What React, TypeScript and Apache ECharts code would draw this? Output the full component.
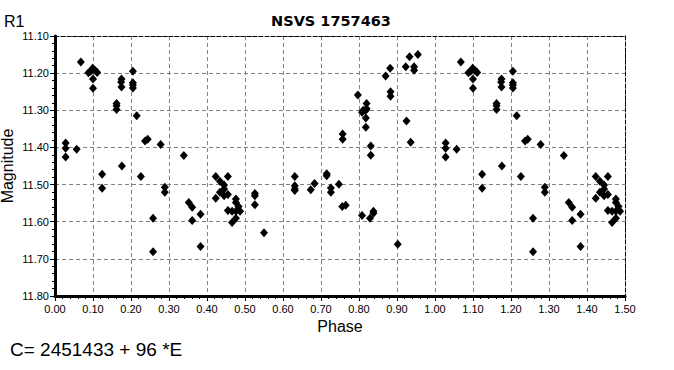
import React, { useEffect, useRef } from "react";
import * as echarts from "echarts";

const chartTitle = "NSVS 1757463";
const yUnit = "R1";
const xName = "Phase";
const yName = "Magnitude";
const epochText = "C= 2451433 + 96 *E";

// observed phase (0..1) and R1 magnitude
const phases = [
  0.028, 0.028, 0.028, 0.057, 0.068, 0.088, 0.094, 0.099, 0.105, 0.111,
  0.100, 0.100, 0.124, 0.124, 0.162, 0.162, 0.162, 0.175, 0.174, 0.175,
  0.176, 0.205, 0.205, 0.205, 0.205, 0.215, 0.237, 0.244, 0.226, 0.258,
  0.258, 0.278, 0.289, 0.289, 0.339, 0.352, 0.361, 0.361, 0.383, 0.383,
  0.423, 0.423, 0.434, 0.434, 0.445, 0.445, 0.445, 0.455, 0.455, 0.455,
  0.466, 0.466, 0.476, 0.476, 0.476, 0.476, 0.483, 0.487, 0.526, 0.526,
  0.526, 0.550, 0.631, 0.631, 0.631, 0.631, 0.673, 0.683, 0.715, 0.715,
  0.726, 0.726, 0.747, 0.756, 0.765, 0.757, 0.757, 0.797, 0.808, 0.811,
  0.818, 0.820, 0.820, 0.818, 0.818, 0.831, 0.831, 0.808, 0.829, 0.838,
  0.838, 0.870, 0.882, 0.883, 0.883, 0.902, 0.925, 0.936, 0.923, 0.933,
  0.945, 0.945, 0.955,
];
const mags = [
  11.388, 11.402, 11.426, 11.405, 11.170, 11.199, 11.195, 11.187, 11.192, 11.198,
  11.216, 11.241, 11.472, 11.510, 11.282, 11.288, 11.298, 11.216, 11.224, 11.237,
  11.450, 11.195, 11.226, 11.232, 11.240, 11.315, 11.383, 11.378, 11.478, 11.591,
  11.681, 11.392, 11.507, 11.521, 11.422, 11.548, 11.561, 11.597, 11.580, 11.667,
  11.537, 11.478, 11.491, 11.521, 11.501, 11.512, 11.530, 11.478, 11.527, 11.570,
  11.602, 11.572, 11.539, 11.548, 11.591, 11.572, 11.559, 11.572, 11.524, 11.530,
  11.554, 11.630, 11.478, 11.503, 11.512, 11.516, 11.514, 11.497, 11.471, 11.476,
  11.509, 11.521, 11.499, 11.559, 11.556, 11.364, 11.378, 11.259, 11.305, 11.300,
  11.300, 11.296, 11.282, 11.321, 11.346, 11.396, 11.421, 11.583, 11.591, 11.572,
  11.577, 11.208, 11.187, 11.250, 11.262, 11.661, 11.329, 11.386, 11.183, 11.156,
  11.183, 11.192, 11.150,
];

const xMin = 0;
const xMax = 1.5;
const xStep = 0.1;
const yMin = 11.1;
const yMax = 11.8;
const yStep = 0.1;

const FONT = "'Liberation Sans', Arial, sans-serif";

export default function App() {
  const ref = useRef<HTMLDivElement>(null);
  useEffect(() => {
    const chart = echarts.init(ref.current as HTMLDivElement, null, { renderer: "svg" });
    const pts: number[][] = [];
    phases.forEach((p, i) => {
      pts.push([p, mags[i]]);
      if (p + 1 <= xMax) pts.push([p + 1, mags[i]]);
    });
    const gridDash = { color: "#808080", type: [4, 3], width: 1 };
    chart.setOption({
      animation: false,
      textStyle: { fontFamily: FONT, color: "#000" },
      title: {
        text: chartTitle,
        left: 326,
        top: 8,
        textAlign: "center",
        textStyle: { fontFamily: "'DejaVu Sans', sans-serif", fontWeight: "bold", fontSize: 14.5, color: "#000" },
      },
      grid: { left: 55, right: 49, top: 36, bottom: 74, containLabel: false, outerBoundsMode: "none" },
      xAxis: [
        {
          type: "value",
          min: xMin,
          max: xMax,
          interval: xStep,
          name: xName,
          nameLocation: "middle",
          nameGap: 18,
          nameTextStyle: { fontFamily: FONT, fontSize: 16, color: "#000" },
          axisLine: { show: true, onZero: false, lineStyle: { color: "#000", width: 3 } },
          axisTick: { show: true, length: 5, lineStyle: { color: "#000", width: 1 } },
          minorTick: { show: true, splitNumber: 5, length: 3, lineStyle: { color: "#000", width: 1 } },
          axisLabel: {
            margin: 7,
            fontFamily: FONT,
            fontSize: 11,
            color: "#000",
            formatter: (v: number) => v.toFixed(2),
          },
          splitLine: { show: true, lineStyle: gridDash },
        },
        {
          type: "value",
          position: "top",
          min: xMin,
          max: xMax,
          interval: xStep,
          axisLine: { show: true, onZero: false, lineStyle: { color: "#000", width: 1, type: [4, 2] } },
          axisTick: { show: false },
          axisLabel: { show: false },
          splitLine: { show: false },
        },
      ],
      yAxis: [
        {
          type: "value",
          inverse: true,
          min: yMin,
          max: yMax,
          interval: yStep,
          name: yName,
          nameLocation: "middle",
          nameGap: 40,
          nameMoveOverlap: false,
          nameTextStyle: { fontFamily: FONT, fontSize: 16, color: "#000" },
          axisLine: { show: true, onZero: false, lineStyle: { color: "#000", width: 3 } },
          axisTick: { show: true, length: 5, lineStyle: { color: "#000", width: 1 } },
          minorTick: { show: true, splitNumber: 5, length: 3, lineStyle: { color: "#000", width: 1 } },
          axisLabel: {
            margin: 6,
            fontFamily: FONT,
            fontSize: 11,
            color: "#000",
            formatter: (v: number) => v.toFixed(2),
          },
          splitLine: { show: true, lineStyle: gridDash },
        },
        {
          type: "value",
          position: "right",
          inverse: true,
          min: yMin,
          max: yMax,
          interval: yStep,
          axisLine: { show: true, onZero: false, lineStyle: { color: "#000", width: 1, type: [4, 2] } },
          axisTick: { show: false },
          axisLabel: { show: false },
          splitLine: { show: false },
        },
      ],
      graphic: [
        {
          type: "text",
          left: 4,
          top: 13,
          style: { text: yUnit, fontFamily: FONT, fontSize: 16, fill: "#000" },
        },
        {
          type: "text",
          left: 10,
          top: 340,
          style: { text: epochText, fontFamily: FONT, fontSize: 19, fill: "#000" },
        },
      ],
      series: [
        {
          type: "scatter",
          xAxisIndex: 0,
          yAxisIndex: 0,
          symbol: "diamond",
          symbolSize: [8, 9],
          itemStyle: { color: "#000", opacity: 1 },
          data: pts,
        },
      ],
    });
    return () => chart.dispose();
  }, []);
  return (
    <div
      ref={ref}
      style={{ position: "absolute", left: 0, top: 0, width: 674, height: 370, background: "#fff" }}
    />
  );
}
